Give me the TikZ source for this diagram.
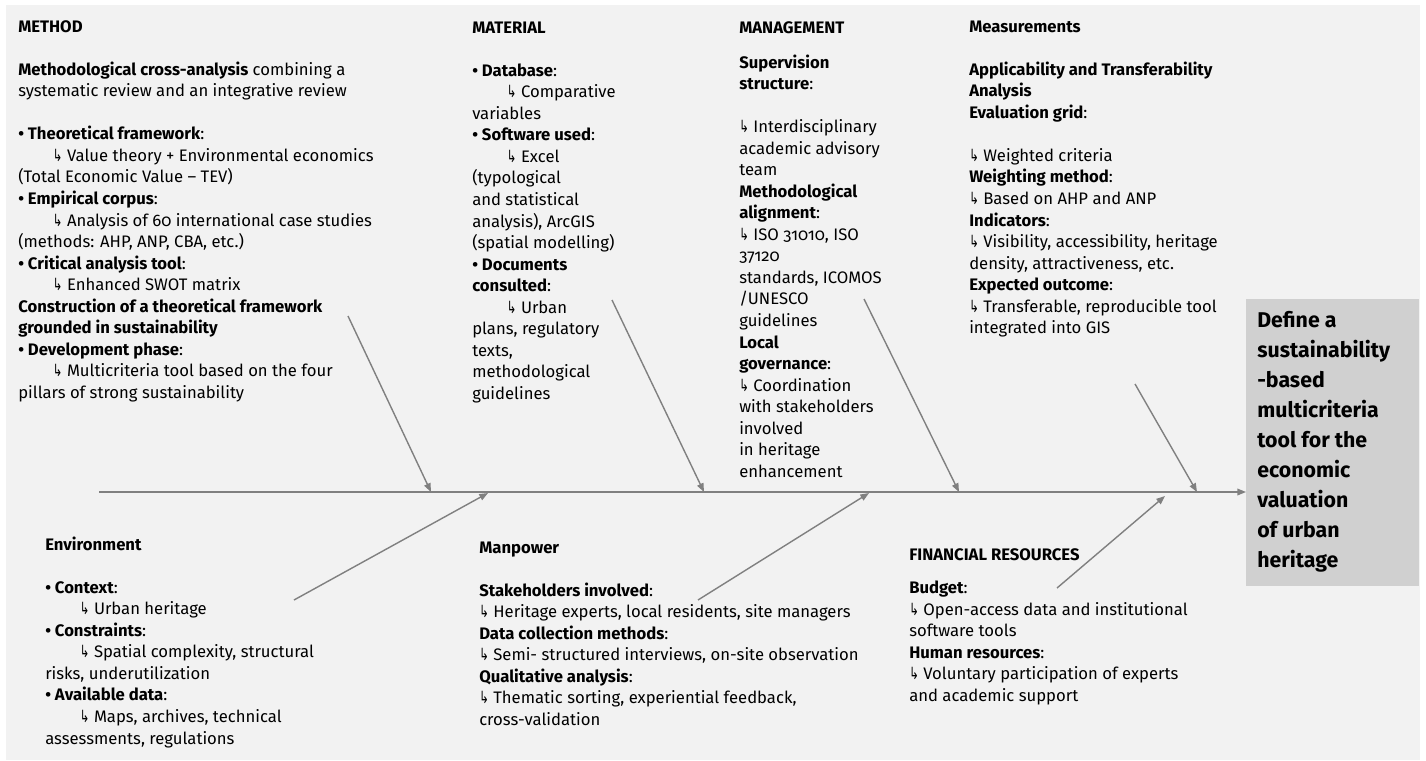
\documentclass[tikz,border=0pt]{standalone}
\usepackage{fontspec}
\usepackage{graphicx}
\setmainfont{Fira Sans}[Numbers=OldStyle]
\newfontfamily\arrowfont{DejaVu Sans}
\usetikzlibrary{arrows.meta}
\definecolor{bg}{HTML}{F2F2F2}
\definecolor{goalfill}{HTML}{D0D0D0}
\definecolor{bonecol}{HTML}{808080}
\newcommand{\sub}{\scalebox{0.72}[1.05]{\arrowfont\fontsize{12}{16}\selectfont ↳}}
\newcommand{\ind}{\hspace*{26pt}}
% every text block hangs from its top edge; the leading strut fixes the first baseline
\tikzset{
  blocktext/.style={anchor=north west, align=left, inner sep=0pt,
    font=\fontsize{12.5}{16.15}\selectfont, text=black},
  goaltextstyle/.style={anchor=north west, align=left, inner sep=0pt,
    font=\fontsize{16}{22.5}\selectfont\bfseries, text=black},
  bone/.style={draw=bonecol, line width=1.05pt,
    -{Triangle[length=6.5pt,width=5pt]}},
}
\begin{document}
\begin{tikzpicture}[x=0.75pt,y=-0.75pt]
\useasboundingbox (0,0) rectangle (1426,760);
\fill[white] (0,0) rectangle (1426,760);
\fill[bg] (6,5) rectangle (1420,760);

% effect box
\node (goal) [fill=goalfill, anchor=north west, inner sep=0pt,
  minimum width=129.75pt, minimum height=215.25pt] at (1246,299) {};
\node (goaltext) [goaltextstyle] at (1257,306) {\strut Define a\\sustainability\\-based\\multicriteria\\tool for the\\economic\\valuation\\of urban\\heritage};

% upper categories
\node (method) [blocktext] at (18,16.9) {\strut\textbf{METHOD}\\[16.15pt]
\textbf{Methodological cross-analysis} combining a\\
systematic review and an integrative review\\[16.15pt]
\textbf{• Theoretical framework}:\\
\ind\sub\ Value theory + Environmental economics\\
(Total Economic Value – TEV)\\
\textbf{• Empirical corpus}:\\
\ind\sub\ Analysis of 60 international case studies\\
(methods: AHP, ANP, CBA, etc.)\\
\textbf{• Critical analysis tool}:\\
\ind\sub\ Enhanced SWOT matrix\\
\textbf{Construction of a theoretical framework}\\
\textbf{grounded in sustainability}\\
\textbf{• Development phase}:\\
\ind\sub\ Multicriteria tool based on the four\\
pillars of strong sustainability};

\node (material) [blocktext] at (472,17.9) {\strut\textbf{MATERIAL}\\[16.15pt]
\textbf{• Database}:\\
\ind\sub\ Comparative\\
variables\\
\textbf{• Software used}:\\
\ind\sub\ Excel\\
(typological\\
and statistical\\
analysis), ArcGIS\\
(spatial modelling)\\
\textbf{• Documents}\\
\textbf{consulted}:\\
\ind\sub\ Urban\\
plans, regulatory\\
texts,\\
methodological\\
guidelines};

\node (management) [blocktext] at (739,17.9) {\strut\textbf{MANAGEMENT}\\[10pt]
\textbf{Supervision}\\
\textbf{structure}:\\[16.15pt]
\sub\ Interdisciplinary\\
academic advisory\\
team\\
\textbf{Methodological}\\
\textbf{alignment}:\\
\sub\ ISO 31010, ISO\\
37120\\
standards, ICOMOS\\
/UNESCO\\
guidelines\\
\textbf{Local}\\
\textbf{governance}:\\
\sub\ Coordination\\
with stakeholders\\
involved\\
in heritage\\
enhancement};

\node (measure) [blocktext] at (969,16.9) {\strut\textbf{Measurements}\\[16.15pt]
\textbf{Applicability and Transferability}\\
\textbf{Analysis}\\
\textbf{Evaluation grid}:\\[16.15pt]
\sub\ Weighted criteria\\
\textbf{Weighting method}:\\
\sub\ Based on AHP and ANP\\
\textbf{Indicators}:\\
\sub\ Visibility, accessibility, heritage\\
density, attractiveness, etc.\\
\textbf{Expected outcome}:\\
\sub\ Transferable, reproducible tool\\
integrated into GIS};

% lower categories
\node (environment) [blocktext] at (45,534.9) {\strut\textbf{Environment}\\[16.15pt]
\textbf{• Context}:\\
\ind\sub\ Urban heritage\\
\textbf{• Constraints}:\\
\ind\sub\ Spatial complexity, structural\\
risks, underutilization\\
\textbf{• Available data}:\\
\ind\sub\ Maps, archives, technical\\
assessments, regulations};

\node (manpower) [blocktext] at (479,537.9) {\strut\textbf{Manpower}\\[16.15pt]
\textbf{Stakeholders involved}:\\
\sub\ Heritage experts, local residents, site managers\\
\textbf{Data collection methods}:\\
\sub\ Semi- structured interviews, on-site observation\\
\textbf{Qualitative analysis}:\\
\sub\ Thematic sorting, experiential feedback,\\
cross-validation};

\node (finance) [blocktext] at (909,544.9) {\strut\textbf{FINANCIAL RESOURCES}\\[9pt]
\textbf{Budget}:\\
\sub\ Open-access data and institutional\\
software tools\\
\textbf{Human resources}:\\
\sub\ Voluntary participation of experts\\
and academic support};

% spine and bones
\coordinate (s0) at (99,492);
\draw[bone] (s0) -- (goal.west |- s0);

\coordinate (methodtail) at (348,316);
\coordinate (methodhead) at (431,492);
\coordinate (envtail) at (294,600);
\coordinate (envhead) at (488,493);
\coordinate (materialtail) at (612,300);
\coordinate (materialhead) at (704,492);
\coordinate (mgmttail) at (864,299);
\coordinate (mgmthead) at (959,492);
\coordinate (manpowertail) at (698,600);
\coordinate (manpowerhead) at (869,493);
\coordinate (financetail) at (1057,588);
\coordinate (financehead) at (1165,496);
\coordinate (measuretail) at (1135,384);
\coordinate (measurehead) at (1197,492);

\draw[bone] (methodtail) -- (methodhead);
\draw[bone] (envtail) -- (envhead);
\draw[bone] (materialtail) -- (materialhead);
\draw[bone] (mgmttail) -- (mgmthead);
\draw[bone] (manpowertail) -- (manpowerhead);
\draw[bone] (financetail) -- (financehead);
\draw[bone] (measuretail) -- (measurehead);
\end{tikzpicture}
\end{document}
